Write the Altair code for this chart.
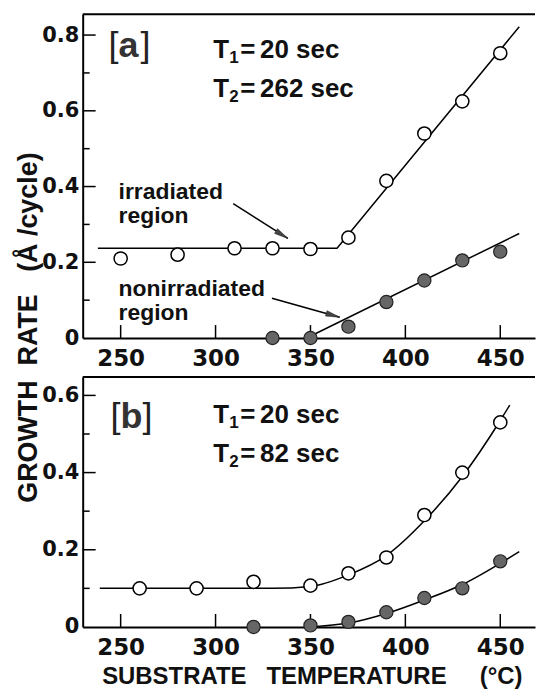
import altair as alt
import pandas as pd

# ---- panel [a]: T1 = 20 sec, T2 = 262 sec ----
a_irr_temp = [250, 280, 310, 330, 350, 370, 390, 410, 430, 450]
a_irr_rate = [0.21, 0.22, 0.237, 0.237, 0.235, 0.265, 0.415, 0.54, 0.625, 0.752]
a_non_temp = [330, 350, 370, 390, 410, 430, 450]
a_non_rate = [0.0, 0.0, 0.03, 0.095, 0.152, 0.205, 0.228]
a_irr_fit_temp = [238, 364, 460]
a_irr_fit_rate = [0.237, 0.237, 0.822]
a_non_fit_temp = [348, 460]
a_non_fit_rate = [0.0, 0.276]

# ---- panel [b]: T1 = 20 sec, T2 = 82 sec ----
b_irr_temp = [260, 290, 320, 350, 370, 390, 410, 430, 450]
b_irr_rate = [0.10, 0.10, 0.117, 0.107, 0.139, 0.18, 0.29, 0.40, 0.53]
b_non_temp = [320, 350, 370, 390, 410, 430, 450]
b_non_rate = [0.0, 0.004, 0.013, 0.038, 0.075, 0.10, 0.17]
b_irr_fit_temp = [239, 330, 350, 370, 390, 410, 430, 450, 455]
b_irr_fit_rate = [0.10, 0.10, 0.105, 0.135, 0.185, 0.275, 0.39, 0.535, 0.575]
b_non_fit_temp = [350, 370, 390, 410, 430, 450, 460]
b_non_fit_rate = [0.0, 0.01, 0.035, 0.07, 0.11, 0.165, 0.195]

# ---- axes ----
x_tick_values = [250, 300, 350, 400, 450]
a_major_ticks = [0.2, 0.4, 0.6, 0.8]
a_minor_ticks = [0.1, 0.3, 0.5, 0.7]
b_major_ticks = [0.2, 0.4, 0.6]
b_minor_ticks = [0.1, 0.3, 0.5]
x_domain = [230, 468.3]
a_y_domain = [0, 0.855]
b_y_domain = [0, 0.648]

# ---- annotations (data coordinates) ----
a_tag = "a"
a_tag_pos = [243.6, 0.742]
b_tag = "b"
b_tag_pos = [244.7, 0.516]
a_t1 = ["1", "20 sec"]
a_t2 = ["2", "262 sec"]
a_times_temp = 298.8
a_times_rate = [0.739, 0.637]
b_t1 = ["1", "20 sec"]
b_t2 = ["2", "82 sec"]
b_times_temp = 298.8
b_times_rate = [0.529, 0.428]
region_lines = ["irradiated", "region", "nonirradiated", "region"]
region_temp = [248.9, 248.9, 248.9, 248.9]
region_rate = [0.366, 0.303, 0.111, 0.047]
arrow_from_temp = [309.3, 329.7]
arrow_from_rate = [0.355, 0.105]
arrow_to_temp = [338.1, 365.4]
arrow_to_rate = [0.263, 0.055]
arrow_angle = [122, 106]

W = 454
HA = 325
HB = 251

LABEL_FONT = "DejaVu Sans"
TEXT_FONT = "Liberation Sans"
INK = "#111111"
ARROW_HEAD = "M0,0L-0.4,2L0.4,2Z"


def make_panel(h, y_domain, y_axis, x_axis, irr_t, irr_r, non_t, non_r,
               irr_fit_t, irr_fit_r, non_fit_t, non_fit_r, interp,
               major, minor, tag, tag_pos, t1, t2, times_t, times_r, with_arrows):
    xs = alt.Scale(domain=x_domain, nice=False, zero=False)
    ys = alt.Scale(domain=y_domain, nice=False, zero=False)

    def X(f):
        return alt.X(f, type="quantitative", scale=xs, axis=x_axis)

    def Y(f):
        return alt.Y(f, type="quantitative", scale=ys, axis=y_axis)

    def label(t, r, s, size, weight="bold", dx=0, dy=0, font=TEXT_FONT, color=INK):
        df = pd.DataFrame({"t": [t], "r": [r], "s": [s]})
        return alt.Chart(df).mark_text(
            font=font, fontSize=size, fontWeight=weight, align="left",
            baseline="alphabetic", dx=dx, dy=dy, color=color
        ).encode(x=X("t"), y=Y("r"), text="s:N")

    irr_fit = alt.Chart(pd.DataFrame({"t": irr_fit_t, "r": irr_fit_r})).mark_line(
        color="black", strokeWidth=1.5, interpolate=interp
    ).encode(x=X("t"), y=Y("r"))
    non_fit = alt.Chart(pd.DataFrame({"t": non_fit_t, "r": non_fit_r})).mark_line(
        color="black", strokeWidth=1.5, interpolate=interp
    ).encode(x=X("t"), y=Y("r"))

    irr_pts = alt.Chart(pd.DataFrame({"t": irr_t, "r": irr_r})).mark_point(
        shape="circle", filled=True, fill="white", stroke="black",
        strokeWidth=1.5, size=175, opacity=1
    ).encode(x=X("t"), y=Y("r"))
    non_pts = alt.Chart(pd.DataFrame({"t": non_t, "r": non_r})).mark_point(
        shape="circle", filled=True, fill="#666666", stroke="#222222",
        strokeWidth=1.2, size=175, opacity=1
    ).encode(x=X("t"), y=Y("r"))

    # inward tick marks
    y_major = alt.Chart(pd.DataFrame({"v": major})).mark_rule(
        color="black", strokeWidth=1.5
    ).encode(y=Y("v"), x=alt.value(0), x2=alt.value(13))
    y_minor = alt.Chart(pd.DataFrame({"v": minor})).mark_rule(
        color="black", strokeWidth=1.5
    ).encode(y=Y("v"), x=alt.value(0), x2=alt.value(7))
    x_major = alt.Chart(pd.DataFrame({"t": x_tick_values})).mark_rule(
        color="black", strokeWidth=1.5
    ).encode(x=X("t"), y=alt.value(h), y2=alt.value(h - 13))

    # top frame line
    top = alt.Chart(pd.DataFrame({"k": [0]})).mark_rule(
        color="black", strokeWidth=2
    ).encode(x=alt.value(0), x2=alt.value(W), y=alt.value(0))

    # panel tag: thin brackets around a bold letter
    tag_layers = [
        label(tag_pos[0], tag_pos[1], "[", 36, weight="normal", color="#222222"),
        label(tag_pos[0], tag_pos[1], tag, 36, weight="bold", dx=10, color="#333333"),
        label(tag_pos[0], tag_pos[1], "]", 36, weight="normal", dx=32, color="#222222"),
    ]

    # T1 / T2 lines with subscript digits
    time_layers = []
    for (sub, rest), r in zip([t1, t2], times_r):
        time_layers += [
            label(times_t, r, "T", 26),
            label(times_t, r, sub, 17, dx=16, dy=5),
            label(times_t, r, "=", 26, dx=27),
            label(times_t, r, rest, 26, dx=47),
        ]

    layers = [irr_fit, non_fit, y_major, y_minor, x_major, top, irr_pts, non_pts]
    layers += tag_layers + time_layers

    if with_arrows:
        reg = alt.Chart(pd.DataFrame({"t": region_temp, "r": region_rate, "s": region_lines})).mark_text(
            font=TEXT_FONT, fontSize=23, fontWeight="bold", align="left",
            baseline="alphabetic", color=INK
        ).encode(x=X("t"), y=Y("r"), text="s:N")
        arr = pd.DataFrame({"t": arrow_from_temp, "r": arrow_from_rate,
                            "t2": arrow_to_temp, "r2": arrow_to_rate, "ang": arrow_angle})
        shafts = alt.Chart(arr).mark_rule(color="black", strokeWidth=1.5).encode(
            x=X("t"), y=Y("r"), x2="t2:Q", y2="r2:Q")
        heads = alt.Chart(arr).mark_point(
            shape=ARROW_HEAD, filled=True, fill="#444444", stroke="#222222",
            strokeWidth=0.5, size=196, opacity=1
        ).encode(x=X("t2"), y=Y("r2"), angle=alt.Angle("ang:Q", scale=None))
        layers += [reg, shafts, heads]

    return alt.layer(*layers).properties(width=W, height=h)


label_expr = "datum.value == 0 ? '0' : format(datum.value, '.1f')"
NB = "\u00a0"

x_axis_a = alt.Axis(values=x_tick_values, ticks=False, labelPadding=10, title=None,
                    labelFont=LABEL_FONT, labelFontSize=23, labelFontWeight="bold",
                    labelColor=INK)
x_axis_b = alt.Axis(values=x_tick_values, ticks=False, labelPadding=10,
                    title="SUBSTRATE" + NB * 3 + "TEMPERATURE" + NB * 5 + "(\u00b0C)",
                    titleFont=TEXT_FONT, titleFontSize=24, titleFontWeight="bold",
                    titleColor=INK, titleX=230, titleY=57,
                    titleAlign="center", titleBaseline="alphabetic",
                    labelFont=LABEL_FONT, labelFontSize=23, labelFontWeight="bold",
                    labelColor=INK)
y_axis_a = alt.Axis(values=[0, 0.2, 0.4, 0.6, 0.8], ticks=False, labelPadding=4,
                    labelExpr=label_expr,
                    title="GROWTH" + NB * 2 + "RATE" + NB * 3 + "(\u00c5" + NB + "/cycle)",
                    titleFont=TEXT_FONT, titleFontSize=27, titleFontWeight="bold",
                    titleColor=INK, titleAngle=270, titleX=-54, titleY=314,
                    titleAlign="center", titleBaseline="middle",
                    labelFont=LABEL_FONT, labelFontSize=21, labelFontWeight="bold",
                    labelColor=INK)
y_axis_b = alt.Axis(values=[0, 0.2, 0.4, 0.6], ticks=False, labelPadding=4,
                    labelExpr=label_expr, title=None,
                    labelFont=LABEL_FONT, labelFontSize=21, labelFontWeight="bold",
                    labelColor=INK)

panel_a = make_panel(HA, a_y_domain, y_axis_a, x_axis_a, a_irr_temp, a_irr_rate,
                     a_non_temp, a_non_rate, a_irr_fit_temp, a_irr_fit_rate,
                     a_non_fit_temp, a_non_fit_rate, "linear",
                     a_major_ticks, a_minor_ticks, a_tag, a_tag_pos,
                     a_t1, a_t2, a_times_temp, a_times_rate, True)
panel_b = make_panel(HB, b_y_domain, y_axis_b, x_axis_b, b_irr_temp, b_irr_rate,
                     b_non_temp, b_non_rate, b_irr_fit_temp, b_irr_fit_rate,
                     b_non_fit_temp, b_non_fit_rate, "monotone",
                     b_major_ticks, b_minor_ticks, b_tag, b_tag_pos,
                     b_t1, b_t2, b_times_temp, b_times_rate, False)

chart = alt.vconcat(panel_a, panel_b, spacing=39, bounds="flush").properties(
    padding={"left": 15, "top": 12, "right": 0, "bottom": 0},
    background="white",
).configure_view(stroke=None).configure_axis(
    grid=False, domainColor="black", domainWidth=2
)

chart.save("out.html", embed_options={"renderer": "svg", "actions": False})
